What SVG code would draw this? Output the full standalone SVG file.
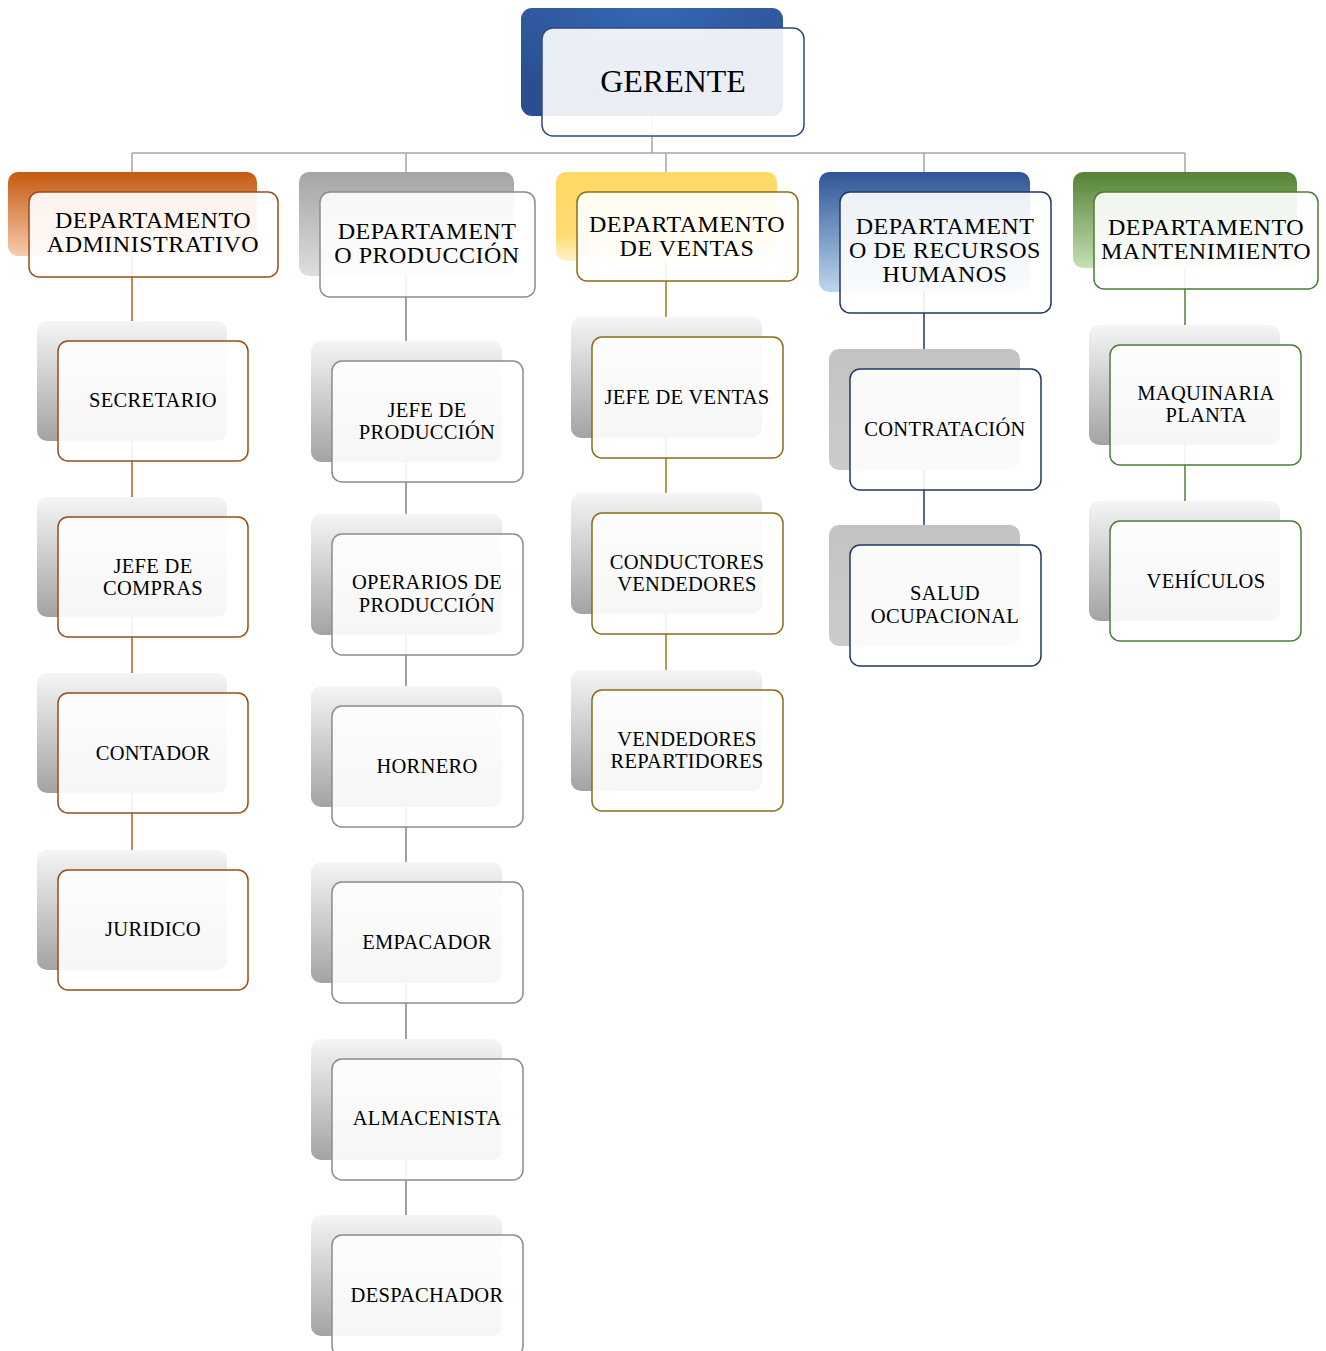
<svg xmlns="http://www.w3.org/2000/svg" width="1326" height="1351" viewBox="0 0 1326 1351">
<defs>
<radialGradient id="gBlueTop" cx="0.5" cy="0" r="0.8">
<stop offset="0" stop-color="#3767b6"/><stop offset="1" stop-color="#2a4f8e"/>
</radialGradient>
<linearGradient id="gOrange" x1="0" y1="0" x2="0" y2="1"><stop offset="0" stop-color="#c55a11"/><stop offset="1" stop-color="#f8cbad"/></linearGradient>
<linearGradient id="gGray" x1="0" y1="0" x2="0" y2="1"><stop offset="0" stop-color="#a5a5a5"/><stop offset="1" stop-color="#dedede"/></linearGradient>
<linearGradient id="gGold" x1="0" y1="0" x2="0" y2="1"><stop offset="0" stop-color="#ffd966"/><stop offset="0.7" stop-color="#ffdc72"/><stop offset="1" stop-color="#fff2cc"/></linearGradient>
<linearGradient id="gBlue" x1="0" y1="0" x2="0" y2="1"><stop offset="0" stop-color="#2f5597"/><stop offset="1" stop-color="#bdd7ee"/></linearGradient>
<linearGradient id="gGreen" x1="0" y1="0" x2="0" y2="1"><stop offset="0" stop-color="#548235"/><stop offset="1" stop-color="#c5e0b4"/></linearGradient>
<linearGradient id="gChild" x1="0" y1="0" x2="0" y2="1"><stop offset="0" stop-color="#f5f5f5"/><stop offset="1" stop-color="#a3a3a3"/></linearGradient>
<linearGradient id="gChildFlat" x1="0" y1="0" x2="0" y2="1"><stop offset="0" stop-color="#c3c3c3"/><stop offset="1" stop-color="#cbcbcb"/></linearGradient>
</defs>
<style>
.front{fill:#ffffff;fill-opacity:0.9;stroke-width:1.5}
.t{font-family:"Liberation Serif","Times New Roman",serif;fill:#000;text-anchor:middle}
.tc{font-size:20.5px;letter-spacing:0.3px}
.th{font-size:24px;letter-spacing:0.5px}
.tg{font-size:32px}
.sO{stroke:#9a4b1d}.sG{stroke:#8c8c8c}.sY{stroke:#8a6d14}.sB{stroke:#203864}.sV{stroke:#507c32}.sN{stroke:#2f4a80}
.ln{fill:none;stroke-width:1.5}
</style>
<g id="connectors">
<path class="ln" stroke="#a6a6a6" stroke-width="2" d="M652 116V153M132 153H1185M132 153V192M406 153V192M666 153V192M924 153V192M1185 153V192"/>
<path class="ln" stroke="#c55a11" d="M132 256V850"/>
<path class="ln" stroke="#808080" d="M406 276V1215"/>
<path class="ln" stroke="#9c7a12" d="M666 261V670"/>
<path class="ln" stroke="#1f3864" d="M924 292V525"/>
<path class="ln" stroke="#548235" d="M1185 268V501"/>
</g>
<g id="gerente">
<rect x="521" y="8" width="262" height="108" rx="11" fill="url(#gBlueTop)"/>
<rect class="front sN" x="542" y="28" width="262" height="108" rx="11"/>
<text class="t tg" x="673" y="92">GERENTE</text>
</g>
<g id="dep-administrativo">
<rect x="8" y="172" width="249" height="84" rx="10" fill="url(#gOrange)"/>
<rect class="front sO" x="29" y="192" width="249" height="85" rx="10"/>
<text class="t th" x="153" y="228">DEPARTAMENTO</text>
<text class="t th" x="153" y="252">ADMINISTRATIVO</text>
</g>
<g id="dep-produccion">
<rect x="299" y="172" width="215" height="104" rx="10" fill="url(#gGray)"/>
<rect class="front sG" x="320" y="192" width="215" height="105" rx="10"/>
<text class="t th" x="427" y="239">DEPARTAMENT</text>
<text class="t th" x="427" y="263">O PRODUCCIÓN</text>
</g>
<g id="dep-ventas">
<rect x="556" y="172" width="221" height="89" rx="10" fill="url(#gGold)"/>
<rect class="front sY" x="577" y="192" width="221" height="89" rx="10"/>
<text class="t th" x="687" y="232">DEPARTAMENTO</text>
<text class="t th" x="687" y="256">DE VENTAS</text>
</g>
<g id="dep-rrhh">
<rect x="819" y="172" width="211" height="120" rx="10" fill="url(#gBlue)"/>
<rect class="front sB" x="840" y="192" width="211" height="121" rx="10"/>
<text class="t th" x="945" y="234">DEPARTAMENT</text>
<text class="t th" x="945" y="258">O DE RECURSOS</text>
<text class="t th" x="945" y="282">HUMANOS</text>
</g>
<g id="dep-mantenimiento">
<rect x="1073" y="172" width="224" height="96" rx="10" fill="url(#gGreen)"/>
<rect class="front sV" x="1094" y="192" width="224" height="97" rx="10"/>
<text class="t th" x="1206" y="235">DEPARTAMENTO</text>
<text class="t th" x="1206" y="259">MANTENIMIENTO</text>
</g>
<g id="secretario">
<rect x="37" y="321" width="190" height="120" rx="10" fill="url(#gChild)"/>
<rect class="front sO" x="58" y="341" width="190" height="120" rx="10"/>
<text class="t tc" x="153" y="407">SECRETARIO</text>
</g>
<g id="jefe-compras">
<rect x="37" y="497" width="190" height="120" rx="10" fill="url(#gChild)"/>
<rect class="front sO" x="58" y="517" width="190" height="120" rx="10"/>
<text class="t tc" x="153" y="573">JEFE DE</text>
<text class="t tc" x="153" y="595">COMPRAS</text>
</g>
<g id="contador">
<rect x="37" y="673" width="190" height="120" rx="10" fill="url(#gChild)"/>
<rect class="front sO" x="58" y="693" width="190" height="120" rx="10"/>
<text class="t tc" x="153" y="760">CONTADOR</text>
</g>
<g id="juridico">
<rect x="37" y="850" width="190" height="120" rx="10" fill="url(#gChild)"/>
<rect class="front sO" x="58" y="870" width="190" height="120" rx="10"/>
<text class="t tc" x="153" y="936">JURIDICO</text>
</g>
<g id="jefe-produccion">
<rect x="311" y="341" width="191" height="121" rx="10" fill="url(#gChild)"/>
<rect class="front sG" x="332" y="361" width="191" height="121" rx="10"/>
<text class="t tc" x="427" y="417">JEFE DE</text>
<text class="t tc" x="427" y="439">PRODUCCIÓN</text>
</g>
<g id="operarios">
<rect x="311" y="514" width="191" height="121" rx="10" fill="url(#gChild)"/>
<rect class="front sG" x="332" y="534" width="191" height="121" rx="10"/>
<text class="t tc" x="427" y="589">OPERARIOS DE</text>
<text class="t tc" x="427" y="612">PRODUCCIÓN</text>
</g>
<g id="hornero">
<rect x="311" y="686" width="191" height="121" rx="10" fill="url(#gChild)"/>
<rect class="front sG" x="332" y="706" width="191" height="121" rx="10"/>
<text class="t tc" x="427" y="773">HORNERO</text>
</g>
<g id="empacador">
<rect x="311" y="862" width="191" height="121" rx="10" fill="url(#gChild)"/>
<rect class="front sG" x="332" y="882" width="191" height="121" rx="10"/>
<text class="t tc" x="427" y="949">EMPACADOR</text>
</g>
<g id="almacenista">
<rect x="311" y="1039" width="191" height="121" rx="10" fill="url(#gChild)"/>
<rect class="front sG" x="332" y="1059" width="191" height="121" rx="10"/>
<text class="t tc" x="427" y="1125">ALMACENISTA</text>
</g>
<g id="despachador">
<rect x="311" y="1215" width="191" height="121" rx="10" fill="url(#gChild)"/>
<rect class="front sG" x="332" y="1235" width="191" height="121" rx="10"/>
<text class="t tc" x="427" y="1302">DESPACHADOR</text>
</g>
<g id="jefe-ventas">
<rect x="571" y="317" width="191" height="121" rx="10" fill="url(#gChild)"/>
<rect class="front sY" x="592" y="337" width="191" height="121" rx="10"/>
<text class="t tc" x="687" y="404">JEFE DE VENTAS</text>
</g>
<g id="conductores">
<rect x="571" y="493" width="191" height="121" rx="10" fill="url(#gChild)"/>
<rect class="front sY" x="592" y="513" width="191" height="121" rx="10"/>
<text class="t tc" x="687" y="569">CONDUCTORES</text>
<text class="t tc" x="687" y="591">VENDEDORES</text>
</g>
<g id="repartidores">
<rect x="571" y="670" width="191" height="121" rx="10" fill="url(#gChild)"/>
<rect class="front sY" x="592" y="690" width="191" height="121" rx="10"/>
<text class="t tc" x="687" y="746">VENDEDORES</text>
<text class="t tc" x="687" y="768">REPARTIDORES</text>
</g>
<g id="contratacion">
<rect x="829" y="349" width="191" height="121" rx="10" fill="url(#gChildFlat)"/>
<rect class="front sB" x="850" y="369" width="191" height="121" rx="10"/>
<text class="t tc" x="945" y="436">CONTRATACIÓN</text>
</g>
<g id="salud">
<rect x="829" y="525" width="191" height="121" rx="10" fill="url(#gChildFlat)"/>
<rect class="front sB" x="850" y="545" width="191" height="121" rx="10"/>
<text class="t tc" x="945" y="600">SALUD</text>
<text class="t tc" x="945" y="623">OCUPACIONAL</text>
</g>
<g id="maquinaria">
<rect x="1089" y="325" width="191" height="120" rx="10" fill="url(#gChild)"/>
<rect class="front sV" x="1110" y="345" width="191" height="120" rx="10"/>
<text class="t tc" x="1206" y="400">MAQUINARIA</text>
<text class="t tc" x="1206" y="422">PLANTA</text>
</g>
<g id="vehiculos">
<rect x="1089" y="501" width="191" height="120" rx="10" fill="url(#gChild)"/>
<rect class="front sV" x="1110" y="521" width="191" height="120" rx="10"/>
<text class="t tc" x="1206" y="588">VEHÍCULOS</text>
</g>
</svg>
